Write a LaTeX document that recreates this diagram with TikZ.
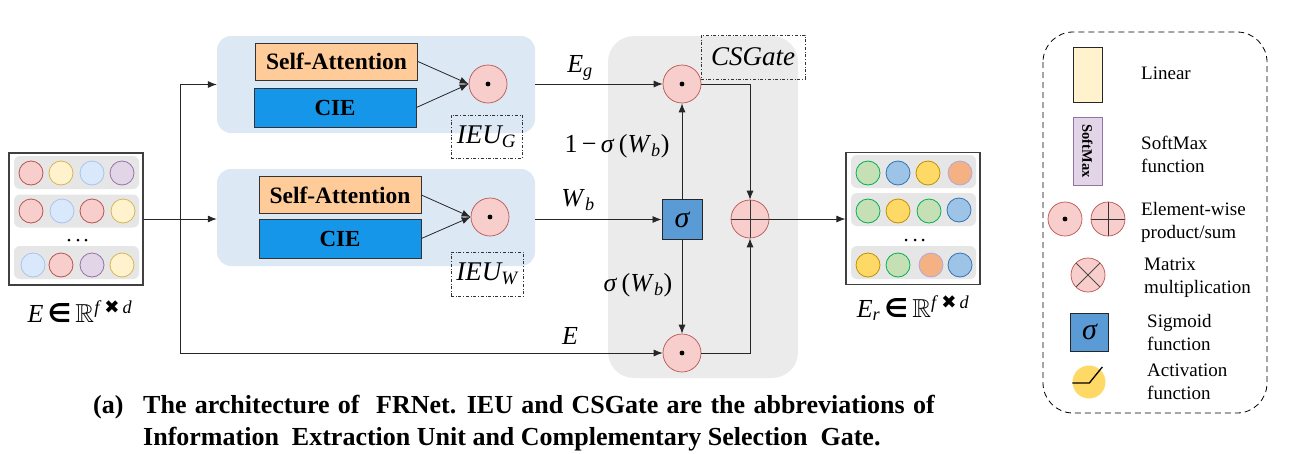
\documentclass[tikz,border=0pt]{standalone}
\usepackage{fontspec}
\usepackage{amssymb}
\setmainfont{Liberation Serif}
\newfontfamily\dejavu{DejaVu Sans}
\usetikzlibrary{arrows.meta,calc}
\definecolor{opfill}{HTML}{F8CECC}
\definecolor{opdraw}{HTML}{B85450}
\definecolor{ieubg}{HTML}{DDE8F5}
\definecolor{gatebg}{HTML}{EBEBEB}
\definecolor{peach}{HTML}{FFCC99}
\definecolor{ciebl}{HTML}{1596E8}
\definecolor{sigbl}{HTML}{5B9BD5}
\definecolor{rowgr}{HTML}{E6E6E6}
\definecolor{cRf}{HTML}{F8CECC}\definecolor{cRd}{HTML}{B85450}
\definecolor{cYf}{HTML}{FFF2CC}\definecolor{cYd}{HTML}{D6B656}
\definecolor{cBf}{HTML}{DAE8FC}\definecolor{cBd}{HTML}{A9C4EB}
\definecolor{cPf}{HTML}{E1D5E7}\definecolor{cPd}{HTML}{9673A6}
\definecolor{oGf}{HTML}{C5E0B4}\definecolor{oGd}{HTML}{00B050}
\definecolor{oBf}{HTML}{9DC3E6}\definecolor{oBd}{HTML}{2E75B6}
\definecolor{oYf}{HTML}{FFD966}\definecolor{oYd}{HTML}{BF9000}
\definecolor{oOf}{HTML}{F4B183}\definecolor{oOd}{HTML}{B4A7D6}
\definecolor{linf}{HTML}{FFF2CC}
\newcommand{\ti}[1]{\textit{#1}}
\newcommand{\Rfd}{\,{\dejavu\bfseries ∈}\,$\mathbb{R}$\textsuperscript{\textit{f}\,{\dejavu\bfseries ✖}\,\textit{d}}}
\tikzset{
  arr/.style={-{Latex[length=9pt,width=7pt]}, line width=0.8pt, black!85},
  dotop/.style={circle, fill=opfill, draw=opdraw, line width=0.7pt, minimum size=#1, inner sep=0pt,
    path picture={\fill[black] (path picture bounding box.center) circle (2.4pt);}},
  dotop/.default=38pt,
  plusop/.style={circle, fill=opfill, draw=opdraw, line width=0.7pt, minimum size=#1, inner sep=0pt,
    path picture={\draw[black!80, line width=0.8pt] (path picture bounding box.north) -- (path picture bounding box.south)
      (path picture bounding box.west) -- (path picture bounding box.east);}},
  plusop/.default=38pt,
  timesop/.style={circle, fill=opfill, draw=opdraw, line width=0.7pt, minimum size=#1, inner sep=0pt,
    path picture={\draw[black!70, line width=0.8pt] (path picture bounding box.north west) -- (path picture bounding box.south east)
      (path picture bounding box.south west) -- (path picture bounding box.north east);}},
  timesop/.default=34pt,
  ieu/.style={fill=ieubg, rounded corners=14pt, minimum width=318pt, minimum height=97pt, inner sep=0pt},
  sabox/.style={fill=peach, draw=black!80, line width=0.8pt, minimum width=162pt, minimum height=37pt, inner sep=0pt,
    font=\fontsize{23.5}{25}\selectfont\bfseries},
  ciebox/.style={fill=ciebl, draw=black!80, line width=0.8pt, minimum width=162pt, minimum height=39pt, inner sep=0pt,
    font=\fontsize{23}{25}\selectfont\bfseries},
  tagbox/.style={draw=black!80, dash dot, line width=0.6pt, inner sep=0pt, font=\fontsize{27}{29}\selectfont\itshape},
  sigbox/.style={fill=sigbl, draw=black!85, line width=1pt, minimum width=#1, minimum height=#1, inner sep=0pt,
    font=\fontsize{30}{32}\selectfont\itshape},
  sigbox/.default=39pt,
  mlab/.style={font=\fontsize{26}{28}\selectfont, inner sep=0pt},
  emb/.style={draw=black!75, line width=1.3pt, minimum width=134pt, minimum height=132pt, inner sep=0pt, fill=white},
  row/.style={fill=rowgr, rounded corners=6pt, minimum width=125pt, minimum height=33pt, inner sep=0pt},
  leg/.style={font=\fontsize{19}{23}\selectfont, align=left, anchor=west, inner sep=0pt},
  capt/.style={anchor=base west, inner sep=0pt, font=\fontsize{26}{32}\selectfont\bfseries},
}
\newcommand{\cc}[4]{\filldraw[fill=#3, draw=#4, line width=0.8pt] (#1,#2) circle (12pt);}
\begin{document}
\begin{tikzpicture}[x=1pt,y=-1pt]
\useasboundingbox (0,0) rectangle (1289,453);

% ---------- input embedding ----------
\node[emb] (in) at (76,219) {};
\node[row] (inr1) at (76.5,172.5) {};
\node[row] (inr2) at (76.5,211) {};
\node[row] (inr3) at (76.5,262.5) {};
\cc{31}{173}{cRf}{cRd}\cc{61}{173}{cYf}{cYd}\cc{92}{173}{cBf}{cBd}\cc{122}{173}{cPf}{cPd}
\cc{31}{211}{cRf}{cRd}\cc{62}{211}{cBf}{cBd}\cc{92}{211}{cRf}{cRd}\cc{123}{211}{cYf}{cYd}
\cc{33}{265}{cBf}{cBd}\cc{61}{265}{cRf}{cRd}\cc{92}{265}{cPf}{cPd}\cc{122}{265}{cYf}{cYd}
\foreach \x in {69,78,86} \fill (\x,240) circle (1.5pt);
\node[mlab] (inlab) at (80,312) {\ti{E}\Rfd};

% ---------- output embedding ----------
\node[emb] (out) at (913,218.5) {};
\node[row] (outr1) at (913.5,171.5) {};
\node[row] (outr2) at (913.5,209.5) {};
\node[row] (outr3) at (913.5,262.5) {};
\cc{868}{173}{oGf}{oGd}\cc{898}{173}{oBf}{oBd}\cc{928}{173}{oYf}{oYd}\cc{960}{173}{oOf}{oOd}
\cc{868}{211}{oGf}{oGd}\cc{898}{211}{oYf}{oYd}\cc{929}{211}{oGf}{oGd}\cc{959}{210}{oBf}{oBd}
\cc{868}{265}{oYf}{oYd}\cc{898}{265}{oGf}{oGd}\cc{931}{265}{oOf}{oOd}\cc{960}{265}{oBf}{oBd}
\foreach \x in {906,915,923} \fill (\x,240) circle (1.5pt);
\node[mlab] (outlab) at (913,308) {\ti{E}\textsubscript{\ti{r}}\Rfd};

% ---------- IEU_G ----------
\node[ieu] (ieug) at (376,84.5) {};
\node[sabox] (saG) at (336.5,61.5) {Self-Attention};
\node[ciebox] (cieG) at (335,107.5) {CIE};
\node[dotop] (dotG) at (488,84) {};
\node[tagbox, minimum width=71pt, minimum height=43pt] (tagG) at (486.5,136.5) {IEU\textsubscript{\ti{G}}};
\draw[arr] (saG.east) -- (dotG.west);
\draw[arr] (cieG.east) -- (dotG.west);

% ---------- IEU_W ----------
\node[ieu] (ieuw) at (376,217.5) {};
\node[sabox] (saW) at (340,195) {Self-Attention};
\node[ciebox] (cieW) at (340,238.5) {CIE};
\node[dotop] (dotW) at (490,217) {};
\node[tagbox, minimum width=72pt, minimum height=44pt] (tagW) at (487,274) {IEU\textsubscript{\ti{W}}};
\draw[arr] (saW.east) -- (dotW.west);
\draw[arr] (cieW.east) -- (dotW.west);

% ---------- CSGate ----------
\node[fill=gatebg, rounded corners=26pt, minimum width=190pt, minimum height=342pt, inner sep=0pt] (gate) at (703,207) {};
\node[tagbox, minimum width=104pt, minimum height=44pt] (tagC) at (753,57) {CSGate};
\node[dotop] (dotT) at (682,84) {};
\node[sigbox=40pt] (sig) at (682,219.5) {σ};
\node[dotop] (dotB) at (682,353) {};
\node[plusop] (plus) at (750,219) {};

% ---------- connectors ----------
\coordinate (br) at (180,219);
\draw[arr] (in.east) -- (in.east -| ieuw.west);
\draw[arr] (br) |- (ieug.west);
\draw[arr] (br) |- (dotB.west);
\draw[arr] (ieug.east |- dotT) -- (dotT.west);
\draw[arr] (ieuw.east |- sig) -- (sig.west);
\draw[arr] (sig.north) -- (dotT.south);
\draw[arr] (sig.south) -- (dotB.north);
\draw[arr] (dotT.east) -| (plus.north);
\draw[arr] (dotB.east) -| (plus.south);
\draw[arr] (plus.east) -- (plus.east -| out.west);

\node[mlab] (lEg) at (580,68) {\ti{E}\textsubscript{\ti{g}}};
\node[mlab] (l1s) at (617,146) {1\,−\,\ti{σ}\,(\ti{W}\textsubscript{\ti{b}})};
\node[mlab] (lWb) at (578,200) {\ti{W}\textsubscript{\ti{b}}};
\node[mlab] (ls) at (638,285) {\ti{σ}\,(\ti{W}\textsubscript{\ti{b}})};
\node[mlab] (lE) at (570,336) {\ti{E}};

% ---------- legend ----------
\draw[dashed, line width=0.8pt, rounded corners=30pt, dash pattern=on 6pt off 4pt] (1043,32) rectangle (1267,413);
\node[fill=linf, draw=black!85, line width=0.9pt, minimum width=29pt, minimum height=55pt, inner sep=0pt] (lgLin) at (1087.5,74.5) {};
\node[leg] (tLin) at (1141,73) {Linear};
\node[fill=cPf, draw=cPd, line width=0.9pt, minimum width=29pt, minimum height=68pt, inner sep=0pt] (lgSm) at (1087.5,151) {};
\node[rotate=-90, font=\fontsize{14.5}{15}\selectfont\bfseries, inner sep=0pt] (tSmIn) at (lgSm) {SoftMax};
\node[leg] (tSm) at (1141,154) {SoftMax\\function};
\node[dotop=34pt] (lgDot) at (1065,219) {};
\node[plusop=34pt] (lgPlus) at (1108,219) {};
\node[leg] (tEw) at (1141,222) {Element-wise\\product/sum};
\node[timesop] (lgX) at (1088,275) {};
\node[leg] (tMm) at (1144,278) {Matrix\\multiplication};
\node[sigbox=38pt, font=\fontsize{30}{32}\selectfont\itshape] (lgSig) at (1089.5,332) {σ};
\node[leg] (tSig) at (1147,332) {Sigmoid\\function};
\node[circle, fill=oYf, minimum size=33pt, inner sep=0pt] (lgAct) at (1089,382) {};
\draw[line width=1.3pt, black] ($(lgAct.west)+(0,1)$) -- ++(17,0) -- ++(13,-16);
\node[leg] (tAct) at (1147,382) {Activation\\function};

% ---------- caption ----------
\node[capt] (capa) at (93,413) {(a)};
\node[capt] (cap1) at (143,413) {\spaceskip=0.32em\relax The architecture of\ \ FRNet. IEU and CSGate are the abbreviations of};
\node[capt] (cap2) at (143,445) {Information\ \ Extraction Unit and Complementary Selection\ \ Gate.};
\end{tikzpicture}
\end{document}
